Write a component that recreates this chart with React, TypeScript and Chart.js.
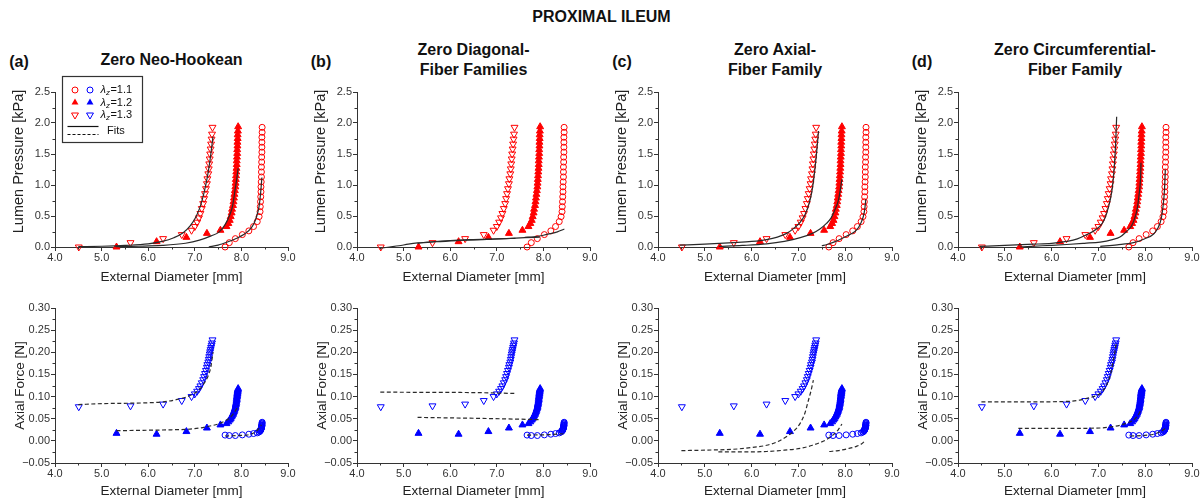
import React, { useEffect, useRef } from 'react';
import { Chart, registerables } from 'chart.js';

Chart.register(...registerables);

const FONT = '"Liberation Sans", Arial, Helvetica, sans-serif';
const RED = '#ff0000';
const BLUE = '#0000ff';
const FIT = '#2a2a2a';
const AXIS = '#333333';

Chart.defaults.font.family = FONT;

// axial stretch ratios of the three protocols
const stretchLabels = ['1.1', '1.2', '1.3'];

// measured external diameter [mm], lumen pressure [kPa] and axial force [N]
const diam11 = [7.65, 7.74, 7.87, 8.02, 8.16, 8.26, 8.34, 8.38, 8.4, 8.405, 8.41, 8.415, 8.42, 8.42, 8.425, 8.43, 8.43, 8.43, 8.435, 8.435, 8.44, 8.44, 8.44, 8.44, 8.445, 8.445];
const press11 = [0.0, 0.07, 0.135, 0.2, 0.26, 0.33, 0.41, 0.49, 0.57, 0.65, 0.73, 0.81, 0.89, 0.97, 1.05, 1.13, 1.21, 1.29, 1.37, 1.45, 1.53, 1.61, 1.69, 1.77, 1.85, 1.93];
const force11 = [0.013, 0.012, 0.012, 0.0135, 0.015, 0.0165, 0.018, 0.02, 0.022, 0.023, 0.024, 0.025, 0.026, 0.027, 0.028, 0.029, 0.03, 0.031, 0.032, 0.033, 0.034, 0.035, 0.036, 0.038, 0.04, 0.042];

const diam12 = [5.32, 6.18, 6.82, 7.26, 7.55, 7.68, 7.72, 7.75, 7.77, 7.79, 7.8, 7.82, 7.83, 7.84, 7.85, 7.86, 7.87, 7.875, 7.88, 7.885, 7.89, 7.895, 7.9, 7.9, 7.905, 7.91, 7.91, 7.915, 7.915, 7.92, 7.92, 7.925, 7.93];
const press12 = [0.0, 0.086, 0.156, 0.22, 0.27, 0.33, 0.38, 0.43, 0.49, 0.55, 0.61, 0.67, 0.73, 0.79, 0.85, 0.91, 0.97, 1.03, 1.09, 1.15, 1.21, 1.27, 1.33, 1.39, 1.45, 1.51, 1.57, 1.63, 1.69, 1.75, 1.81, 1.87, 1.94];
const force12 = [0.017, 0.015, 0.021, 0.029, 0.036, 0.039, 0.043, 0.047, 0.05, 0.054, 0.057, 0.06, 0.063, 0.066, 0.069, 0.072, 0.075, 0.078, 0.081, 0.084, 0.087, 0.09, 0.093, 0.096, 0.099, 0.102, 0.105, 0.107, 0.109, 0.111, 0.113, 0.115, 0.118];

const diam13 = [4.51, 5.62, 6.32, 6.72, 6.93, 7.0, 7.05, 7.09, 7.12, 7.15, 7.18, 7.2, 7.22, 7.24, 7.26, 7.27, 7.29, 7.3, 7.31, 7.32, 7.33, 7.34, 7.35, 7.36, 7.37, 7.38];
const press13 = [0.0, 0.07, 0.135, 0.2, 0.27, 0.33, 0.4, 0.47, 0.54, 0.62, 0.7, 0.78, 0.86, 0.94, 1.02, 1.1, 1.18, 1.26, 1.34, 1.42, 1.5, 1.58, 1.66, 1.74, 1.82, 1.93];
const force13 = [0.077, 0.079, 0.083, 0.091, 0.1, 0.106, 0.112, 0.118, 0.124, 0.131, 0.138, 0.145, 0.152, 0.159, 0.166, 0.172, 0.178, 0.184, 0.19, 0.196, 0.201, 0.206, 0.211, 0.216, 0.221, 0.228];

type Pair = [number, number];

// (a) zero neo-Hookean model fits
const neoP11: Pair[] = [[7.3, 0.0], [7.5, 0.03], [7.7, 0.08], [7.9, 0.14], [8.05, 0.2], [8.18, 0.28], [8.27, 0.38], [8.33, 0.5], [8.38, 0.66], [8.41, 0.85], [8.44, 1.12]];
const neoP12: Pair[] = [[5.3, 0.005], [5.8, 0.012], [6.3, 0.025], [6.8, 0.06], [7.1, 0.11], [7.35, 0.18], [7.52, 0.24], [7.65, 0.36], [7.74, 0.5], [7.81, 0.66], [7.86, 0.9], [7.9, 1.1], [7.93, 1.27]];
const neoP13: Pair[] = [[4.5, 0.005], [5.0, 0.012], [5.5, 0.025], [6.0, 0.05], [6.3, 0.09], [6.55, 0.15], [6.75, 0.23], [6.9, 0.34], [7.02, 0.48], [7.12, 0.66], [7.2, 0.88], [7.27, 1.13], [7.33, 1.42], [7.39, 1.78]];
const neoF11: Pair[] = [[7.65, 0.011], [7.9, 0.012], [8.1, 0.013], [8.25, 0.017], [8.35, 0.025], [8.43, 0.036]];
const neoF12: Pair[] = [[5.32, 0.023], [6.0, 0.024], [6.5, 0.025], [6.82, 0.026], [7.1, 0.029], [7.3, 0.033], [7.5, 0.038], [7.65, 0.045], [7.75, 0.052], [7.84, 0.063], [7.9, 0.073], [7.93, 0.08]];
const neoF13: Pair[] = [[4.5, 0.082], [5.0, 0.084], [5.6, 0.085], [6.0, 0.086], [6.32, 0.088], [6.6, 0.093], [6.82, 0.099], [7.0, 0.108], [7.1, 0.116], [7.2, 0.13], [7.29, 0.148], [7.35, 0.17], [7.39, 0.2]];

// (b) zero diagonal-fiber families model fits
const diagP11: Pair[] = [[7.6, 0.155], [7.8, 0.165], [8.0, 0.19], [8.15, 0.215], [8.3, 0.245], [8.45, 0.29]];
const diagP12: Pair[] = [[5.3, 0.06], [5.7, 0.085], [6.2, 0.105], [6.7, 0.12], [7.2, 0.135], [7.6, 0.15], [7.92, 0.16]];
const diagP13: Pair[] = [[4.5, -0.02], [4.7, 0.0], [4.9, 0.02], [5.1, 0.045], [5.3, 0.065], [5.6, 0.085], [6.0, 0.105], [6.5, 0.12], [7.0, 0.132], [7.4, 0.14]];
const diagF11: Pair[] = [[7.65, 0.013], [8.1, 0.014], [8.43, 0.016]];
const diagF12: Pair[] = [[5.3, 0.053], [6.5, 0.051], [7.93, 0.048]];
const diagF13: Pair[] = [[4.5, 0.11], [5.5, 0.1095], [6.5, 0.109], [7.42, 0.107]];

// (c) zero axial-fiber family model fits
const axP11: Pair[] = [[7.5, 0.02], [7.61, 0.04], [7.8, 0.09], [7.96, 0.15], [8.12, 0.21], [8.25, 0.28], [8.33, 0.38], [8.39, 0.5], [8.42, 0.62], [8.44, 0.77]];
const axP12: Pair[] = [[5.3, 0.01], [5.8, 0.025], [6.32, 0.05], [6.7, 0.09], [7.04, 0.15], [7.3, 0.22], [7.46, 0.29], [7.6, 0.38], [7.7, 0.47], [7.78, 0.6], [7.86, 0.77], [7.93, 1.09]];
const axP13: Pair[] = [[4.46, 0.03], [5.0, 0.045], [5.61, 0.07], [6.0, 0.09], [6.32, 0.12], [6.55, 0.16], [6.75, 0.22], [6.9, 0.3], [7.04, 0.4], [7.14, 0.52], [7.22, 0.68], [7.28, 0.86], [7.32, 1.05], [7.38, 1.45], [7.43, 1.87]];
const axF11: Pair[] = [[7.66, -0.024], [7.85, -0.022], [8.04, -0.018], [8.25, -0.012], [8.36, -0.006], [8.43, 0.001]];
const axF12: Pair[] = [[5.29, -0.025], [5.8, -0.025], [6.32, -0.024], [6.7, -0.021], [7.04, -0.017], [7.3, -0.01], [7.46, -0.004], [7.6, 0.003], [7.75, 0.014], [7.85, 0.025], [7.93, 0.038]];
const axF13: Pair[] = [[4.5, -0.022], [5.0, -0.021], [5.61, -0.019], [6.0, -0.015], [6.32, -0.01], [6.55, -0.002], [6.75, 0.01], [6.9, 0.022], [7.04, 0.04], [7.14, 0.063], [7.21, 0.09], [7.27, 0.113], [7.32, 0.137]];

// (d) zero circumferential-fiber family model fits
const circP11: Pair[] = [[7.04, 0.01], [7.4, 0.035], [7.75, 0.07], [7.98, 0.13], [8.18, 0.21], [8.28, 0.32], [8.34, 0.45], [8.38, 0.65], [8.41, 0.9], [8.43, 1.25]];
const circP12: Pair[] = [[5.32, 0.0], [5.8, 0.02], [6.32, 0.04], [6.7, 0.06], [7.04, 0.08], [7.3, 0.12], [7.46, 0.16], [7.6, 0.25], [7.7, 0.33], [7.77, 0.45], [7.83, 0.62], [7.87, 0.85], [7.9, 1.1], [7.91, 1.36]];
const circP13: Pair[] = [[4.46, 0.01], [5.0, 0.025], [5.61, 0.045], [6.0, 0.06], [6.32, 0.09], [6.55, 0.13], [6.75, 0.2], [6.9, 0.26], [7.04, 0.34], [7.12, 0.43], [7.18, 0.55], [7.25, 0.75], [7.3, 0.97], [7.34, 1.3], [7.37, 1.7], [7.39, 2.1]];
const circF11: Pair[] = [[7.68, 0.011], [7.95, 0.012], [8.18, 0.015], [8.33, 0.021], [8.43, 0.028]];
const circF12: Pair[] = [[5.29, 0.028], [6.0, 0.028], [7.04, 0.029], [7.3, 0.032], [7.46, 0.035], [7.6, 0.04], [7.75, 0.047], [7.84, 0.057], [7.9, 0.068]];
const circF13: Pair[] = [[4.5, 0.088], [5.5, 0.088], [6.32, 0.089], [6.6, 0.092], [6.75, 0.096], [6.9, 0.1], [7.04, 0.107], [7.13, 0.118], [7.21, 0.134], [7.27, 0.155], [7.32, 0.183], [7.36, 0.205], [7.38, 0.22]];

type Panel = {
  id: string;
  letter: string;
  title: string[];
  left: number;
  width: number;
  pressureFits: Pair[][];
  forceFits: Pair[][];
};

const panels: Panel[] = [
  { id: 'a', letter: '(a)', title: ['Zero Neo-Hookean'], left: 55, width: 233, pressureFits: [neoP11, neoP12, neoP13], forceFits: [neoF11, neoF12, neoF13] },
  { id: 'b', letter: '(b)', title: ['Zero Diagonal-', 'Fiber Families'], left: 357, width: 233, pressureFits: [diagP11, diagP12, diagP13], forceFits: [diagF11, diagF12, diagF13] },
  { id: 'c', letter: '(c)', title: ['Zero Axial-', 'Fiber Family'], left: 658, width: 234, pressureFits: [axP11, axP12, axP13], forceFits: [axF11, axF12, axF13] },
  { id: 'd', letter: '(d)', title: ['Zero Circumferential-', 'Fiber Family'], left: 958, width: 234, pressureFits: [circP11, circP12, circP13], forceFits: [circF11, circF12, circF13] },
];

// layout
const TOP_PLOT = 92;
const BOTTOM_PLOT = 308;
const PLOT_H = 155;
const YW = 45;
const PAD_T = 20;
const PAD_R = 14;
const XH_TOP = 38;
const XH_BOTTOM = 36;

type Kind = 'pressure' | 'force';

const fmtForce = (v: number) => {
  const r = Math.round(v * 1000) / 1000;
  return r < 0 ? '\u2212' + Math.abs(r).toFixed(2) : r.toFixed(2);
};

// short ticks halfway between labelled ticks
const minorTicks = {
  id: 'minorTicks',
  afterDraw(chart: any) {
    const { ctx } = chart;
    const xs = chart.scales.x;
    const ys = chart.scales.y;
    ctx.save();
    ctx.strokeStyle = AXIS;
    ctx.lineWidth = 1;
    ctx.beginPath();
    for (let i = 0; i < xs.ticks.length - 1; i++) {
      const v = (xs.ticks[i].value + xs.ticks[i + 1].value) / 2;
      const px = Math.round(xs.getPixelForValue(v)) + 0.5;
      ctx.moveTo(px, xs.top);
      ctx.lineTo(px, xs.top + 2.5);
    }
    for (let i = 0; i < ys.ticks.length - 1; i++) {
      const v = (ys.ticks[i].value + ys.ticks[i + 1].value) / 2;
      const py = Math.round(ys.getPixelForValue(v)) + 0.5;
      ctx.moveTo(ys.right, py);
      ctx.lineTo(ys.right - 2.5, py);
    }
    ctx.stroke();
    ctx.restore();
  },
};

// rotated y-axis caption, placed beside the axis
function yCaption(text: string, size: number, dx: number, dy: number) {
  return {
    id: 'yCaption',
    afterDraw(chart: any) {
      const { ctx, chartArea: ca } = chart;
      ctx.save();
      ctx.translate(ca.left - dx, (ca.top + ca.bottom) / 2 - dy);
      ctx.rotate(-Math.PI / 2);
      ctx.fillStyle = '#222';
      ctx.font = `${size}px ${FONT}`;
      ctx.textAlign = 'center';
      ctx.textBaseline = 'middle';
      ctx.fillText(text, 0, 0);
      ctx.restore();
    },
  };
}

function drawSymbol(ctx: CanvasRenderingContext2D, style: string, x: number, y: number, color: string) {
  ctx.save();
  ctx.strokeStyle = color;
  ctx.fillStyle = color;
  ctx.lineWidth = 1;
  ctx.beginPath();
  if (style === 'circle') {
    ctx.arc(x, y, 3, 0, Math.PI * 2);
    ctx.stroke();
  } else {
    const r = 4;
    const base = style === 'down' ? Math.PI : 0;
    for (let k = 0; k < 3; k++) {
      const a = base + (k * 2 * Math.PI) / 3;
      const px = x + Math.sin(a) * r;
      const py = y - Math.cos(a) * r;
      if (k === 0) ctx.moveTo(px, py);
      else ctx.lineTo(px, py);
    }
    ctx.closePath();
    if (style === 'down') ctx.stroke();
    else ctx.fill();
  }
  ctx.restore();
}

// boxed key for symbols and fit lines
const seriesKey = {
  id: 'seriesKey',
  afterDraw(chart: any) {
    const { ctx, chartArea: ca } = chart;
    const bx = Math.round(ca.left + 7) + 0.5;
    const by = Math.round(ca.top - 16) + 0.5;
    const bw = 80;
    const bh = 66;
    ctx.save();
    ctx.fillStyle = '#ffffff';
    ctx.fillRect(bx, by, bw, bh);
    ctx.strokeStyle = '#333';
    ctx.lineWidth = 1.2;
    ctx.strokeRect(bx, by, bw, bh);
    const styles = ['circle', 'triangle', 'down'];
    const rowY = [13.5, 26, 38.5];
    stretchLabels.forEach((lab, i) => {
      const y = by + rowY[i];
      drawSymbol(ctx, styles[i], bx + 12.5, y, RED);
      drawSymbol(ctx, styles[i], bx + 27.5, y, BLUE);
      let tx = bx + 38;
      ctx.fillStyle = '#111';
      ctx.textBaseline = 'middle';
      ctx.textAlign = 'left';
      ctx.font = `italic 11px ${FONT}`;
      ctx.fillText('\u03bb', tx, y);
      tx += ctx.measureText('\u03bb').width;
      ctx.font = `italic 8px ${FONT}`;
      ctx.fillText('z', tx, y + 3);
      tx += ctx.measureText('z').width + 0.5;
      ctx.font = `11px ${FONT}`;
      ctx.fillText('=' + lab, tx, y);
    });
    ctx.strokeStyle = '#111';
    ctx.lineWidth = 1.2;
    ctx.beginPath();
    ctx.moveTo(bx + 5, by + 50);
    ctx.lineTo(bx + 36, by + 50);
    ctx.stroke();
    ctx.setLineDash([3, 2]);
    ctx.beginPath();
    ctx.moveTo(bx + 5, by + 58);
    ctx.lineTo(bx + 36, by + 58);
    ctx.stroke();
    ctx.setLineDash([]);
    ctx.fillStyle = '#111';
    ctx.font = `11px ${FONT}`;
    ctx.textBaseline = 'middle';
    ctx.fillText('Fits', bx + 44.5, by + 54);
    ctx.restore();
  },
};

function PanelChart({ panel, kind, withKey }: { panel: Panel; kind: Kind; withKey: boolean }) {
  const ref = useRef<HTMLCanvasElement>(null);
  const isP = kind === 'pressure';
  const xh = isP ? XH_TOP : XH_BOTTOM;
  const W = YW + panel.width + PAD_R;
  const H = PAD_T + PLOT_H + xh;
  const left = panel.left - YW;
  const top = (isP ? TOP_PLOT : BOTTOM_PLOT) - PAD_T;

  useEffect(() => {
    if (!ref.current) return;
    const values = isP ? [press11, press12, press13] : [force11, force12, force13];
    const diams = [diam11, diam12, diam13];
    const color = isP ? RED : BLUE;
    const fits = isP ? panel.pressureFits : panel.forceFits;

    const fitSets = fits.map((f) => ({
      type: 'line' as const,
      data: f.map(([x, y]) => ({ x, y })),
      borderColor: FIT,
      borderWidth: 1.2,
      borderDash: isP ? [] : [4, 2.5],
      pointRadius: 0,
      cubicInterpolationMode: 'monotone' as const,
      fill: false,
      clip: false as any,
    }));

    const markerStyles = [
      { pointStyle: 'circle', radius: 3, rotation: 0, filled: false },
      { pointStyle: 'triangle', radius: 4, rotation: 0, filled: true },
      { pointStyle: 'triangle', radius: 4, rotation: 180, filled: false },
    ];

    const markerSets = diams.map((d, i) => ({
      type: 'scatter' as const,
      data: d.map((x, j) => ({ x, y: values[i][j] })),
      pointStyle: markerStyles[i].pointStyle as any,
      pointRadius: markerStyles[i].radius,
      pointRotation: markerStyles[i].rotation,
      pointBorderWidth: 1,
      pointBorderColor: color,
      pointBackgroundColor: markerStyles[i].filled ? color : 'rgba(0,0,0,0)',
      borderColor: color,
      backgroundColor: markerStyles[i].filled ? color : 'rgba(0,0,0,0)',
      showLine: false,
      clip: false as any,
    }));

    const caption = isP
      ? yCaption('Lumen Pressure [kPa]', 14.5, 36, 8)
      : yCaption('Axial Force [N]', 13.5, 35, 0);

    const chart = new Chart(ref.current, {
      type: 'scatter',
      data: { datasets: [...fitSets, ...markerSets] as any },
      options: {
        responsive: false,
        animation: false,
        events: [],
        layout: { padding: { top: PAD_T, right: PAD_R, left: 0, bottom: 0 } },
        plugins: { legend: { display: false }, tooltip: { enabled: false } },
        scales: {
          x: {
            type: 'linear',
            min: 4,
            max: 9,
            ticks: {
              stepSize: 1,
              padding: 0,
              color: '#333',
              font: { family: FONT, size: 11 },
              maxRotation: 0,
              autoSkip: false,
              callback: (v: any) => Number(v).toFixed(1),
            },
            grid: { drawOnChartArea: false, drawTicks: true, tickLength: 4, tickColor: AXIS, tickWidth: 1 },
            border: { display: true, color: AXIS, width: 1 },
            title: {
              display: true,
              text: 'External Diameter [mm]',
              color: '#222',
              font: { family: FONT, size: 13.5 },
              padding: { top: 0, bottom: 0 },
            },
            afterFit: (s: any) => {
              s.height = xh;
              s.paddingLeft = 0;
              s.paddingRight = 0;
            },
          },
          y: {
            type: 'linear',
            min: isP ? 0 : -0.05,
            max: isP ? 2.5 : 0.3,
            ticks: {
              stepSize: isP ? 0.5 : 0.05,
              padding: 1,
              color: '#333',
              font: { family: FONT, size: 11 },
              autoSkip: false,
              callback: (v: any) => (isP ? (Math.round(Number(v) * 100) / 100).toFixed(1) : fmtForce(Number(v))),
            },
            grid: { drawOnChartArea: false, drawTicks: true, tickLength: 4, tickColor: AXIS, tickWidth: 1 },
            border: { display: true, color: AXIS, width: 1 },
            title: { display: false },
            afterFit: (s: any) => {
              s.width = YW;
              s.paddingTop = 0;
              s.paddingBottom = 0;
            },
          },
        },
      } as any,
      plugins: withKey ? [minorTicks, caption, seriesKey] : [minorTicks, caption],
    });
    return () => chart.destroy();
  }, []);

  return (
    <canvas
      ref={ref}
      width={W}
      height={H}
      style={{ position: 'absolute', left, top, width: W, height: H }}
    />
  );
}

function Label({ x, y, text, size = 16 }: { x: number; y: number; text: string; size?: number }) {
  return (
    <div
      style={{
        position: 'absolute',
        left: x,
        top: y,
        transform: 'translate(-50%, -50%)',
        fontSize: size,
        fontWeight: 700,
        lineHeight: 1,
        whiteSpace: 'nowrap',
        color: '#111',
        fontFamily: FONT,
      }}
    >
      {text}
    </div>
  );
}

export default function App() {
  return (
    <div style={{ position: 'absolute', left: 0, top: 0, width: 1203, height: 504, background: '#fff', overflow: 'hidden' }}>
      <Label x={601.5} y={17} text="PROXIMAL ILEUM" />
      {panels.map((p) => {
        const cx = p.left + p.width / 2;
        return (
          <React.Fragment key={p.id}>
            <Label x={p.left - 36} y={61.5} text={p.letter} />
            {p.title.length === 1 ? (
              <Label x={cx} y={60} text={p.title[0]} />
            ) : (
              <>
                <Label x={cx} y={50} text={p.title[0]} />
                <Label x={cx} y={69.5} text={p.title[1]} />
              </>
            )}
            <PanelChart panel={p} kind="pressure" withKey={p.id === 'a'} />
            <PanelChart panel={p} kind="force" withKey={false} />
          </React.Fragment>
        );
      })}
    </div>
  );
}
